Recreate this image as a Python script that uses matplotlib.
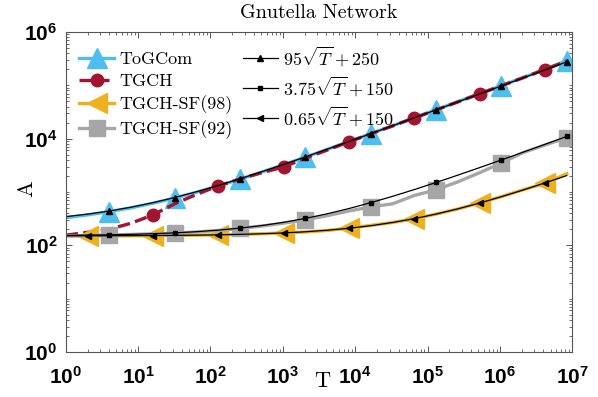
import matplotlib
matplotlib.use('Agg')
import matplotlib.pyplot as plt
from matplotlib.font_manager import FontProperties
from matplotlib.ticker import LogLocator, FixedLocator, NullFormatter

plt.rcParams['font.family'] = 'Liberation Sans'
plt.rcParams['font.weight'] = 'bold'
plt.rcParams['mathtext.fontset'] = 'cm'
plt.rcParams['axes.unicode_minus'] = False

# T sampled at powers of two (2^0 .. 2^23)
T = [1, 2, 4, 8, 16, 32, 64, 128, 256, 512, 1024, 2048, 4096, 8192,
     16384, 32768, 65536, 131072, 262144, 524288, 1048576, 2097152,
     4194304, 8388608]

togcom = [330, 372, 428, 505, 615, 770, 990, 1300, 1740, 2370, 3250, 4500,
          6300, 8800, 12400, 17400, 24600, 34800, 49500, 70000, 99000,
          140000, 200000, 290000]
tgch = [155, 175, 200, 260, 372, 600, 900, 1300, 1750, 2300, 2950, 4300,
        6100, 8700, 12300, 17300, 24500, 34500, 48800, 69500, 98000,
        139000, 198000, 285000]
tgch_sf98 = [150, 150, 150, 151, 152, 153, 155, 157, 160, 165, 170, 178,
             190, 210, 236, 268, 315, 385, 480, 625, 820, 1100, 1450, 2200]
tgch_sf92 = [150, 152, 156, 160, 164, 169, 178, 190, 207, 230, 260, 300,
             360, 440, 525, 600, 860, 1100, 1550, 2300, 3500, 5500, 7600,
             10500]

# reference curves from the legend
fit_95 = [345.0, 384.4, 440.0, 518.7, 630.0, 787.4, 1010.0, 1324.8, 1770.0,
          2399.6, 3290.0, 4549.2, 6330.0, 8848.4, 12410.0, 17446.8, 24570.0,
          34643.7, 48890.0, 69037.3, 97530.0, 137824.6, 194810.0, 275399.5]
fit_375 = [153.8, 155.3, 157.5, 160.6, 165.0, 171.2, 180.0, 192.4, 210.0,
           234.9, 270.0, 319.7, 390.0, 489.4, 630.0, 828.8, 1110.0, 1507.7,
           2070.0, 2865.3, 3990.0, 5580.6, 7830.0, 11011.2]
fit_065 = [150.7, 150.9, 151.3, 151.8, 152.6, 153.7, 155.2, 157.4, 160.4,
           164.7, 170.8, 179.4, 191.6, 208.8, 233.2, 267.7, 316.4, 385.3,
           482.8, 620.7, 815.6, 1091.3, 1481.2, 2032.6]

x_ticks = [1, 1e1, 1e2, 1e3, 1e4, 1e5, 1e6, 1e7]
y_ticks = [1, 1e2, 1e4, 1e6]

blue = '#4DBEEE'
red = '#A2142F'
yellow = '#EDB120'
gray = '#A6A6A6'

fig = plt.figure(figsize=(5.98, 3.97), dpi=100)
ax = fig.add_axes([0.110, 0.1134, 0.847, 0.806])

ax.plot(T, togcom, color=blue, lw=2.4, marker='^', ms=14, markevery=slice(2, None, 3),
        label='ToGCom')
ax.plot(T, tgch, color=red, lw=2.4, ls='--', marker='o', ms=9, markevery=slice(4, None, 3),
        label='TGCH')
ax.plot(T, tgch_sf98, color=yellow, lw=2.4, marker='<', ms=14, markevery=slice(1, None, 3),
        label='TGCH-SF(98)')
ax.plot(T, tgch_sf92, color=gray, lw=2.4, marker='s', ms=11, markevery=slice(2, None, 3),
        label='TGCH-SF(92)')
ax.plot(T, fit_95, color='black', lw=0.9, marker='^', ms=4, markevery=slice(2, None, 3),
        label=r'$95\sqrt{T}+250$')
ax.plot(T, fit_375, color='black', lw=0.9, marker='s', ms=3.5, markevery=slice(2, None, 3),
        label=r'$3.75\sqrt{T}+150$')
ax.plot(T, fit_065, color='black', lw=0.9, marker='<', ms=4, markevery=slice(1, None, 3),
        label=r'$0.65\sqrt{T}+150$')

ax.set_xscale('log')
ax.set_yscale('log')
ax.set_xlim(1, 1e7)
ax.set_ylim(1, 1e6)
ax.xaxis.set_major_locator(FixedLocator(x_ticks))
ax.yaxis.set_major_locator(FixedLocator(y_ticks))
ax.xaxis.set_minor_locator(LogLocator(base=10, subs=range(2, 10), numticks=20))
ax.yaxis.set_minor_locator(LogLocator(base=10, subs=range(1, 10), numticks=20))
ax.yaxis.set_minor_formatter(NullFormatter())
ax.xaxis.set_minor_formatter(NullFormatter())
ax.tick_params(which='both', direction='in', top=True, right=True, color='#555555')
ax.tick_params(which='major', length=4, width=0.7, labelsize=15)
ax.tick_params(axis='x', which='major', pad=10)
ax.tick_params(axis='y', which='major', pad=6)
ax.tick_params(which='minor', length=2.5, width=0.6)
for s in ax.spines.values():
    s.set_color('#555555')
    s.set_linewidth(0.8)

serif = FontProperties(family='cmr10', size=13, weight='normal', math_fontfamily='cm')
axis_font = FontProperties(family='cmr10', size=16, weight='normal')
ax.set_title('Gnutella Network', fontproperties=FontProperties(family='cmr10', size=14.5, weight='normal'),
             pad=10)
ax.set_xlabel('T', fontproperties=axis_font)
ax.xaxis.set_label_coords(0.506, -0.06)
ax.set_ylabel('A', fontproperties=axis_font)
ax.yaxis.set_label_coords(-0.058, 0.51)

ax.legend(loc='upper left', bbox_to_anchor=(0.012, 0.985), borderaxespad=0, ncol=2,
          frameon=False, prop=serif, handlelength=1.95, handletextpad=0.28,
          columnspacing=0.55, labelspacing=0.35, numpoints=1)

fig.savefig('out.png', dpi=100)
